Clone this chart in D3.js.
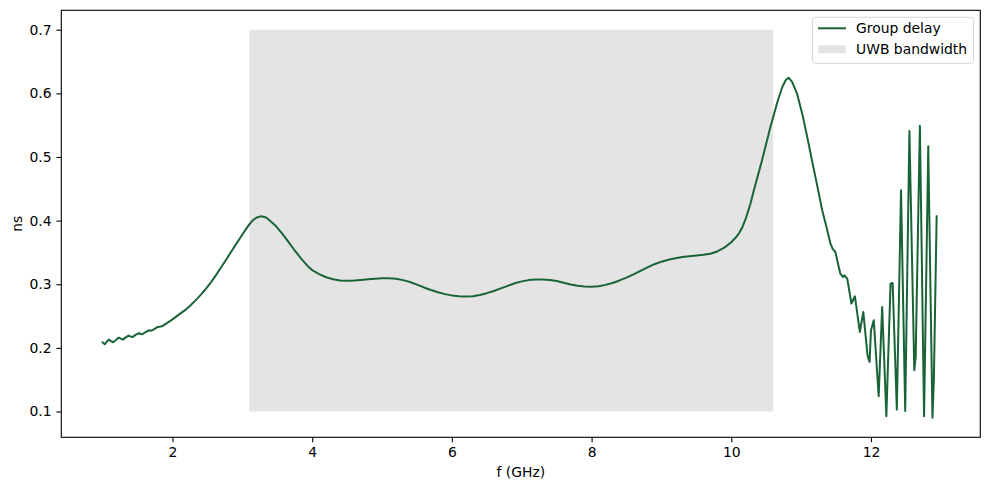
<!DOCTYPE html>
<html><head><meta charset="utf-8">
<script src="https://cdn.jsdelivr.net/npm/d3@7"></script>
<style>body{margin:0;background:#fff}svg{display:block}text{font-family:"DejaVu Sans",sans-serif}</style>
</head><body><svg id="c" width="989" height="490"></svg>
<script>
const freq = [1.00,1.03,1.06,1.09,1.12,1.15,1.19,1.23,1.26,1.29,1.33,1.37,1.40,1.43,1.47,1.52,1.55,1.57,1.61,1.66,1.69,1.72,1.79,1.83,1.86,1.93,2.00,2.10,2.19,2.26,2.34,2.41,2.48,2.55,2.62,2.69,2.77,2.84,2.91,2.97,3.03,3.10,3.15,3.20,3.27,3.34,3.40,3.48,3.58,3.67,3.76,3.86,3.95,4.00,4.10,4.20,4.30,4.40,4.50,4.60,4.70,4.80,4.90,5.00,5.10,5.20,5.30,5.40,5.50,5.60,5.70,5.80,5.90,6.00,6.10,6.20,6.30,6.40,6.50,6.60,6.70,6.80,6.90,7.00,7.10,7.20,7.30,7.40,7.50,7.60,7.70,7.80,7.90,8.00,8.10,8.20,8.30,8.40,8.50,8.60,8.70,8.80,8.90,9.00,9.10,9.20,9.30,9.40,9.50,9.60,9.70,9.80,9.90,10.00,10.06,10.11,10.16,10.21,10.27,10.32,10.44,10.56,10.66,10.73,10.78,10.82,10.87,10.94,11.02,11.09,11.16,11.23,11.30,11.35,11.42,11.45,11.49,11.56,11.60,11.62,11.66,11.72,11.77,11.84,11.89,11.95,11.98,12.00,12.04,12.11,12.16,12.22,12.28,12.31,12.37,12.43,12.49,12.55,12.62,12.64,12.70,12.76,12.82,12.88,12.90,12.94];
const delay = [0.2085,0.2057,0.2100,0.2130,0.2105,0.2089,0.2125,0.2163,0.2145,0.2130,0.2165,0.2194,0.2178,0.2172,0.2205,0.2230,0.2218,0.2214,0.2245,0.2277,0.2268,0.2282,0.2329,0.2335,0.2345,0.2398,0.2448,0.2530,0.2602,0.2670,0.2759,0.2840,0.2932,0.3030,0.3140,0.3255,0.3390,0.3510,0.3630,0.3730,0.3830,0.3940,0.4005,0.4045,0.4070,0.4050,0.3995,0.3915,0.3785,0.3650,0.3515,0.3380,0.3270,0.3222,0.3160,0.3110,0.3080,0.3060,0.3055,0.3060,0.3068,0.3078,0.3088,0.3095,0.3095,0.3085,0.3065,0.3035,0.2995,0.2950,0.2910,0.2875,0.2845,0.2825,0.2812,0.2808,0.2812,0.2830,0.2860,0.2895,0.2935,0.2975,0.3015,0.3045,0.3065,0.3075,0.3075,0.3068,0.3050,0.3025,0.2995,0.2975,0.2965,0.2962,0.2970,0.2990,0.3020,0.3060,0.3105,0.3155,0.3210,0.3265,0.3315,0.3355,0.3385,0.3410,0.3428,0.3440,0.3450,0.3462,0.3480,0.3515,0.3575,0.3660,0.3730,0.3800,0.3900,0.4040,0.4250,0.4460,0.4947,0.5470,0.5863,0.6099,0.6210,0.6246,0.6180,0.6000,0.5660,0.5300,0.4920,0.4550,0.4170,0.3953,0.3639,0.3560,0.3507,0.3168,0.3114,0.3141,0.3089,0.2697,0.2811,0.2250,0.2565,0.1887,0.1780,0.2277,0.2434,0.1240,0.2643,0.0926,0.3010,0.3020,0.1030,0.4476,0.1010,0.5408,0.1650,0.1860,0.5490,0.0926,0.5167,0.0903,0.1490,0.4070];
const xTicks = [2,4,6,8,10,12];
const yTicks = [0.1,0.2,0.3,0.4,0.5,0.6,0.7];
const band = [3.1, 10.6];
const bandRange = [0.1, 0.7];
const legendLabels = ["Group delay","UWB bandwidth"];
const lineColor = "#196437", bandColor = "#e4e4e4";

const svg = d3.select("#c");
const L=61.3, R=980.3, T=10.3, B=437.3;
const x = d3.scaleLinear().domain([0.408,13.565]).range([L,R]);
const y = d3.scaleLinear().domain([0.0595,0.7305]).range([B,T]);

svg.append("rect").attr("x",x(band[0])).attr("y",y(bandRange[1]))
  .attr("width",x(band[1])-x(band[0])).attr("height",y(bandRange[0])-y(bandRange[1]))
  .attr("fill",bandColor);

const data = freq.map((f,i)=>[f,delay[i]]);
svg.append("path").datum(data)
  .attr("d", d3.line().x(d=>x(d[0])).y(d=>y(d[1])).curve(d3.curveLinear))
  .attr("fill","none").attr("stroke",lineColor).attr("stroke-width",2)
  .attr("stroke-linejoin","round").attr("stroke-linecap","square");

const fs = "13.9px";
const xa = svg.append("g").attr("transform",`translate(0,${B})`)
  .call(d3.axisBottom(x).tickValues(xTicks).tickFormat(d3.format("d")).tickSize(4.9).tickPadding(4.9));
const ya = svg.append("g").attr("transform",`translate(${L},0)`)
  .call(d3.axisLeft(y).tickValues(yTicks).tickFormat(d3.format(".1f")).tickSize(4.9).tickPadding(4.9));
[xa,ya].forEach(a=>{
  a.select(".domain").remove();
  a.selectAll("line").attr("stroke","#000").attr("stroke-width",1.1);
  a.selectAll("text").attr("font-size",fs).attr("font-family","DejaVu Sans").attr("fill","#000");
});
svg.append("rect").attr("x",L).attr("y",T).attr("width",R-L).attr("height",B-T)
  .attr("fill","none").attr("stroke","#000").attr("stroke-width",1.1);

svg.append("text").attr("x",(L+R)/2).attr("y",477).attr("text-anchor","middle")
  .attr("font-size",fs).text("f (GHz)");
svg.append("text").attr("transform",`translate(22,${(T+B)/2}) rotate(-90)`).attr("text-anchor","middle")
  .attr("font-size",fs).text("ns");

// legend
const lg = svg.append("g");
lg.append("rect").attr("x",812.5).attr("y",17.3).attr("width",161).attr("height",46)
  .attr("rx",3).attr("fill","#fff").attr("fill-opacity",0.8).attr("stroke","#d6d6d6").attr("stroke-width",1);
lg.append("line").attr("x1",818).attr("x2",846).attr("y1",28.3).attr("y2",28.3)
  .attr("stroke",lineColor).attr("stroke-width",2);
lg.append("rect").attr("x",818).attr("y",45.3).attr("width",28).attr("height",8).attr("fill",bandColor);
legendLabels.forEach((t,i)=>{
  lg.append("text").attr("x",856).attr("y",33.3+i*20.5).attr("font-size",fs).text(t);
});
</script></body></html>
